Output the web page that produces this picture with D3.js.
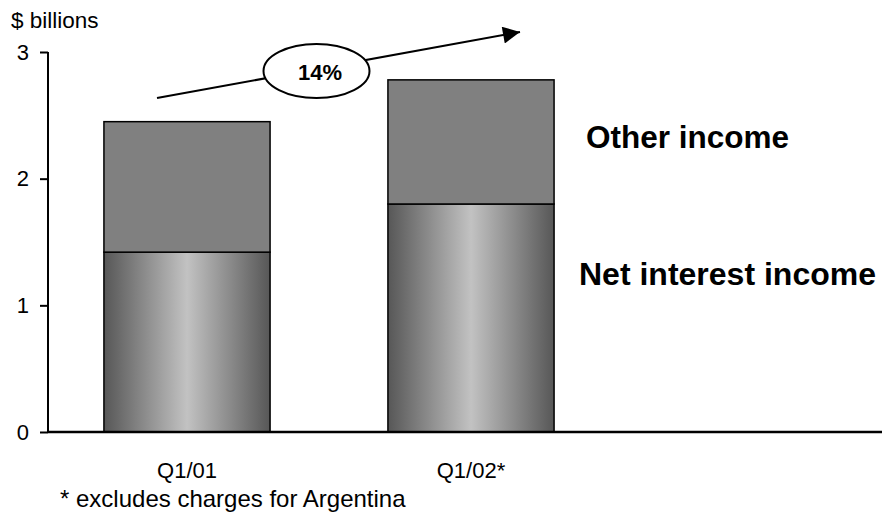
<!DOCTYPE html>
<html>
<head>
<meta charset="utf-8">
<script src="https://cdn.jsdelivr.net/npm/d3@7"></script>
<style>
  body { margin: 0; background: #fff; }
  svg { display: block; font-family: "Liberation Sans", Arial, sans-serif; }
</style>
</head>
<body>
<svg width="882" height="516"></svg>
<script>
// data ($ billions)
var categories = ["Q1/01", "Q1/02*"];
var netInterest = [1.42, 1.80];
var otherIncome = [1.03, 0.98];
var yTicks = [0, 1, 2, 3];
var growthLabel = "14%";

var svg = d3.select("svg");

// gradient for the net interest segments
var defs = svg.append("defs");
var grad = defs.append("linearGradient").attr("id", "nii").attr("x1", "0%").attr("x2", "100%");
grad.append("stop").attr("offset", "0%").attr("stop-color", "#575757");
grad.append("stop").attr("offset", "50%").attr("stop-color", "#c2c2c2");
grad.append("stop").attr("offset", "100%").attr("stop-color", "#575757");

var x = d3.scaleBand()
    .domain(categories)
    .range([45, 613])
    .paddingInner(0.415)
    .paddingOuter(0.2075);

var y = d3.scaleLinear()
    .domain([0, 3])
    .range([432, 52]);

// bars
var g = svg.append("g");
g.selectAll(".nii")
  .data(categories)
  .enter()
  .append("rect")
  .attr("class", "nii")
  .attr("x", function(d){ return x(d); })
  .attr("y", function(d, i){ return y(netInterest[i]); })
  .attr("width", x.bandwidth())
  .attr("height", function(d, i){ return y(0) - y(netInterest[i]); })
  .attr("fill", "url(#nii)")
  .attr("stroke", "#000")
  .attr("stroke-width", 1.5);

g.selectAll(".other")
  .data(categories)
  .enter()
  .append("rect")
  .attr("class", "other")
  .attr("x", function(d){ return x(d); })
  .attr("y", function(d, i){ return y(netInterest[i] + otherIncome[i]); })
  .attr("width", x.bandwidth())
  .attr("height", function(d, i){ return y(netInterest[i]) - y(netInterest[i] + otherIncome[i]); })
  .attr("fill", "#808080")
  .attr("stroke", "#000")
  .attr("stroke-width", 1.5);

// y axis
var yAxis = svg.append("g")
  .attr("transform", "translate(48,0)")
  .call(d3.axisLeft(y).tickValues(yTicks).tickFormat(d3.format("d")).tickSize(8).tickPadding(11));
yAxis.select(".domain").attr("stroke-width", 2).attr("d", "M0," + y(3) + "V" + y(0));
yAxis.selectAll(".tick line").attr("stroke-width", 2);
yAxis.selectAll(".tick text").attr("font-size", 22).attr("font-family", "Liberation Sans, Arial, sans-serif").attr("fill", "#000");

// x axis
var xAxis = svg.append("g")
  .attr("transform", "translate(0," + y(0) + ")")
  .call(d3.axisBottom(x).tickSize(0).tickPadding(30));
xAxis.select(".domain").attr("stroke-width", 2.5).attr("d", "M48,0H882");
xAxis.selectAll(".tick text").attr("font-size", 22).attr("font-family", "Liberation Sans, Arial, sans-serif").attr("fill", "#000");

// unit label
svg.append("text").attr("x", 11).attr("y", 28).attr("font-size", 22.5).text("$ billions");

// series labels
svg.append("text").attr("x", 586).attr("y", 148)
  .attr("font-size", 31.5).attr("font-weight", "bold").text("Other income");
svg.append("text").attr("x", 579).attr("y", 285)
  .attr("font-size", 32).attr("font-weight", "bold").text("Net interest income");

// growth arrow
defs.append("marker")
  .attr("id", "head")
  .attr("viewBox", "0 0 10 10")
  .attr("refX", 10).attr("refY", 5)
  .attr("markerWidth", 25).attr("markerHeight", 17)
  .attr("markerUnits", "userSpaceOnUse")
  .attr("orient", "auto")
  .append("path").attr("d", "M0,0L10,5L0,10Z").attr("fill", "#000");

svg.append("line")
  .attr("x1", 157).attr("y1", 98)
  .attr("x2", 520).attr("y2", 32)
  .attr("stroke", "#000").attr("stroke-width", 2)
  .attr("marker-end", "url(#head)");

svg.append("ellipse")
  .attr("cx", 316.5).attr("cy", 71)
  .attr("rx", 53).attr("ry", 27)
  .attr("fill", "#fff").attr("stroke", "#000").attr("stroke-width", 2);
svg.append("text")
  .attr("x", 320).attr("y", 80)
  .attr("text-anchor", "middle")
  .attr("font-size", 22).attr("font-weight", "bold")
  .text(growthLabel);

// footnote
svg.append("text").attr("x", 60).attr("y", 507).attr("font-size", 24).text("* excludes charges for Argentina");
</script>
</body>
</html>
